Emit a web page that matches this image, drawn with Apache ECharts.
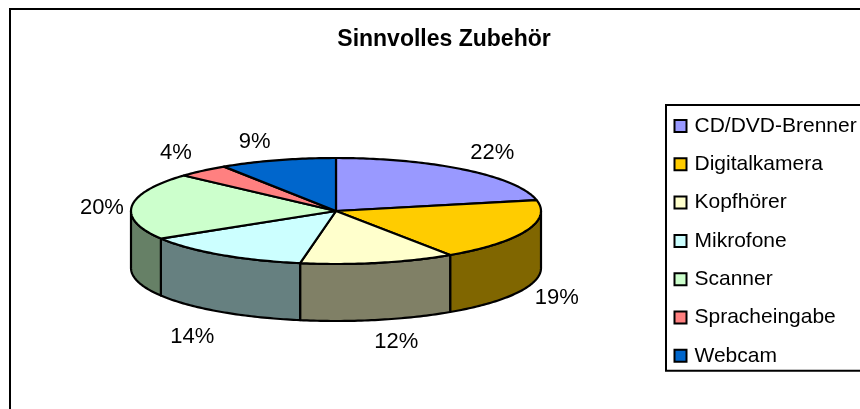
<!doctype html>
<html>

<head>
    <meta charset="utf-8">
    <title>Sinnvolles Zubehör</title>
    <script type="text/javascript" src="https://cdn.jsdelivr.net/npm/echarts@6/dist/echarts.min.js"></script>
</head>

<body style="margin:0;padding:0;background:#fff">
    <div id="tb" style="width:860px;height:409px"></div>
    <script>
        var categories = ['CD/DVD-Brenner', 'Digitalkamera', 'Kopfhörer', 'Mikrofone', 'Scanner', 'Spracheingabe', 'Webcam'];
        // read from the slice edges, the labels show them rounded
        var shares = [21.7, 18.9, 12.2, 13.5, 20.4, 4.1, 9.2];
        var colors = ['#9999FF', '#FFCC00', '#FFFFCC', '#CCFFFF', '#CCFFCC', '#FF8080', '#0066CC'];
        var sideColors = ['#4D4D80', '#806600', '#808066', '#668080', '#668066', '#804040', '#003366'];

        // Ellipse of the tilted pie
        var cx = 336, cy = 211, rx = 205, ry = 53, depth = 57;
        // where excel had put the labels, relative to the rim point at the middle of the slice
        var labelNudge = [[27, -17], [31, 67], [18, 79], [-28, 82], [-30, 2], [-27, -18], [-23, -18]];

        var total = shares.reduce(function (a, b) { return a + b; }, 0);

        function rim(a, dy) {
            return [cx + rx * Math.sin(a), cy - ry * Math.cos(a) + (dy || 0)];
        }

        function arc(from, to, dy) {
            var pts = [];
            var n = Math.max(2, Math.ceil((to - from) * 60));
            for (var i = 0; i <= n; i++) {
                pts.push(rim(from + (to - from) * i / n, dy));
            }
            return pts;
        }

        function renderSlice(params, api) {
            var idx = params.seriesIndex;
            var before = shares.slice(0, idx).reduce(function (a, b) { return a + b; }, 0);
            var from = before / total * Math.PI * 2;
            var to = from + api.value(0) / total * Math.PI * 2;
            var mid = (from + to) / 2;
            var line = { stroke: '#000', lineWidth: 2.2, lineJoin: 'round' };
            var children = [];

            // side wall, only the part facing the viewer
            var a = Math.max(from, Math.PI / 2), b = Math.min(to, Math.PI * 1.5);
            if (a < b) {
                children.push({
                    type: 'polygon',
                    shape: { points: arc(a, b, 0).concat(arc(a, b, depth).reverse()) },
                    style: Object.assign({ fill: sideColors[idx] }, line)
                });
            }
            // top face
            children.push({
                type: 'polygon',
                shape: { points: [[cx, cy]].concat(arc(from, to, 0)) },
                style: Object.assign({ fill: colors[idx] }, line)
            });
            var p = rim(mid, 0);
            children.push({
                type: 'text',
                x: p[0] + labelNudge[idx][0],
                y: p[1] + labelNudge[idx][1],
                style: {
                    text: Math.round(api.value(0)) + '%',
                    fill: '#000',
                    font: '22px "Liberation Sans", Arial, sans-serif',
                    align: 'center',
                    verticalAlign: 'middle'
                }
            });
            return { type: 'group', children: children };
        }

        var chart = echarts.init(document.getElementById('tb'));
        chart.setOption({
            animation: false,
            backgroundColor: '#fff',
            title: {
                text: 'Sinnvolles Zubehör',
                left: 439,
                top: 23,
                textAlign: 'center',
                textStyle: {
                    fontFamily: '"Liberation Sans", Arial, sans-serif',
                    fontSize: 23,
                    fontWeight: 'bold',
                    color: '#000'
                }
            },
            legend: {
                orient: 'vertical',
                left: 666,
                top: 105,
                padding: [9, 10, 3, 7.5],
                itemGap: 14.3,
                itemWidth: 12,
                itemHeight: 12,
                icon: 'rect',
                selectedMode: false,
                backgroundColor: '#fff',
                borderColor: '#000',
                borderWidth: 2,
                borderRadius: 0,
                textStyle: {
                    fontFamily: '"Liberation Sans", Arial, sans-serif',
                    fontSize: 21,
                    color: '#000',
                    padding: [0, 0, 0, 3],
                    lineHeight: 24
                },
                data: categories.map(function (name, i) {
                    return {
                        name: name,
                        itemStyle: { color: colors[i], borderColor: '#000', borderWidth: 2 }
                    };
                })
            },
            graphic: [{
                // chart frame, runs off the right and bottom of the picture
                type: 'rect',
                shape: { x: 10, y: 9, width: 900, height: 500 },
                style: { fill: 'none', stroke: '#000', lineWidth: 2 },
                silent: true
            }],
            series: categories.map(function (name, i) {
                return {
                    type: 'custom',
                    name: name,
                    coordinateSystem: 'none',
                    silent: true,
                    itemStyle: { color: colors[i] },
                    renderItem: renderSlice,
                    data: [[shares[i]]]
                };
            })
        });
    </script>
</body>

</html>
